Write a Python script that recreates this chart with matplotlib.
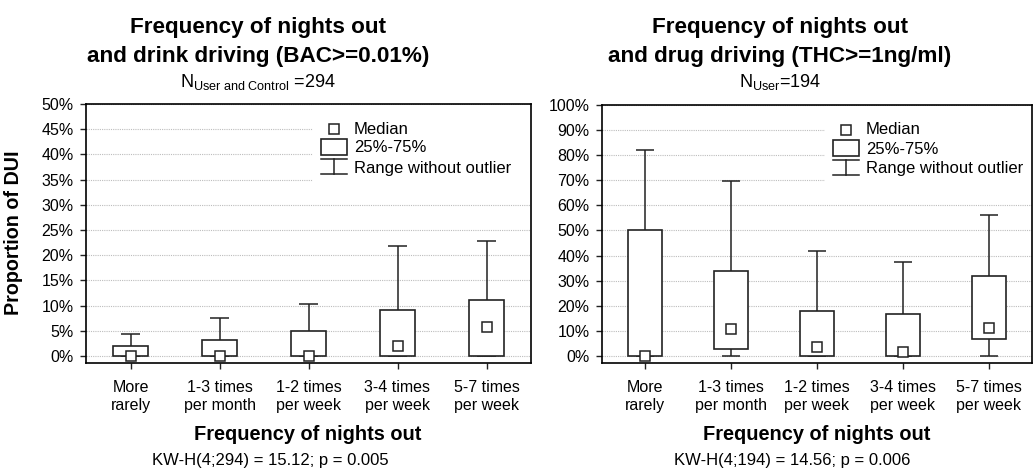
import matplotlib
matplotlib.use('Agg')
import matplotlib.pyplot as plt
from matplotlib.patches import Rectangle
import numpy as np

plt.rcParams['font.family'] = ['Liberation Sans', 'DejaVu Sans']
plt.rcParams['mathtext.fontset'] = 'custom'
plt.rcParams['mathtext.rm'] = 'Liberation Sans'
plt.rcParams['mathtext.it'] = 'Liberation Sans'

categories = ['More\nrarely', '1-3 times\nper month', '1-2 times\nper week',
              '3-4 times\nper week', '5-7 times\nper week']

# drink driving (BAC >= 0.01%), values in %
bac_median = [0.0, 0.0, 0.0, 2.0, 5.8]
bac_q1 = [0.0, 0.0, 0.0, 0.0, 0.0]
bac_q3 = [2.05, 3.1, 4.9, 9.1, 11.1]
bac_low = [0.0, 0.0, 0.0, 0.0, 0.0]
bac_high = [4.4, 7.5, 10.3, 21.9, 22.8]

# drug driving (THC >= 1ng/ml), values in %
thc_median = [0.0, 10.6, 3.6, 1.7, 11.2]
thc_q1 = [0.0, 2.7, 0.0, 0.0, 6.6]
thc_q3 = [50.0, 34.0, 18.1, 16.9, 32.0]
thc_low = [0.0, 0.0, 0.0, 0.0, 0.0]
thc_high = [82.0, 69.9, 42.0, 37.6, 56.0]

W, H = 1033, 471
fig = plt.figure(figsize=(W / 100, H / 100), dpi=100)

edge = '#222222'


def px_axes(left, top, right, bottom):
    return fig.add_axes([left / W, 1 - bottom / H, (right - left) / W, (bottom - top) / H])


def draw_panel(ax, med, q1, q3, lo, hi, ymax, step, ymin):
    x = np.arange(len(categories))
    ax.set_xlim(-0.5, len(categories) - 0.5)
    ax.set_ylim(ymin, ymax)
    ax.set_yticks(np.arange(0, ymax + step / 2, step))
    ax.set_yticklabels([f'{int(v)}%' for v in np.arange(0, ymax + step / 2, step)])
    ax.set_xticks(x)
    ax.set_xticklabels(categories, linespacing=1.25)
    ax.grid(axis='y', color='#bdbdbd', linestyle=(0, (1, 1)), linewidth=0.8)
    ax.set_axisbelow(True)
    for s in ax.spines.values():
        s.set_linewidth(1.2)
    ax.tick_params(labelsize=11.5, length=4, width=1, color='#222222')
    ax.tick_params(axis='x', pad=8)
    ax.tick_params(axis='y', pad=5)

    q1 = np.array(q1)
    q3 = np.array(q3)
    ax.vlines(x, q3, hi, color=edge, lw=1.1, zorder=2)
    ax.vlines(x, lo, q1, color=edge, lw=1.1, zorder=2)
    ax.hlines(hi, x - 0.11, x + 0.11, color=edge, lw=1.1, zorder=2)
    ax.hlines(lo, x - 0.11, x + 0.11, color=edge, lw=1.1, zorder=2)
    ax.bar(x, q3 - q1, bottom=q1, width=0.4, color='white', edgecolor=edge,
           linewidth=1.2, zorder=3)
    ax.plot(x, med, 's', ms=7, mfc='white', mec=edge, mew=1.1, zorder=4,
            clip_on=False)


def draw_legend(ax, ax_w, ax_h, x0):
    # pixel offsets from the axes top-left corner
    fx = lambda p: p / ax_w
    fy = lambda p: 1 - p / ax_h
    ax.add_patch(Rectangle((fx(x0 - 8), fy(80)), 1 - fx(x0 - 8), 80 / ax_h - 0.002,
                           transform=ax.transAxes, facecolor='white', edgecolor='none',
                           zorder=1.5))
    cx = x0 + 13
    ax.plot([fx(cx)], [fy(25)], 's', ms=7, mfc='white', mec=edge, mew=1.1,
            transform=ax.transAxes, zorder=4)
    ax.add_patch(Rectangle((fx(x0), fy(51)), fx(26), 16 / ax_h, transform=ax.transAxes,
                           facecolor='white', edgecolor=edge, lw=1.2, zorder=4))
    ax.plot([fx(x0), fx(x0 + 26)], [fy(55), fy(55)], color=edge, lw=1.1,
            transform=ax.transAxes, zorder=4)
    ax.plot([fx(x0), fx(x0 + 26)], [fy(70), fy(70)], color=edge, lw=1.1,
            transform=ax.transAxes, zorder=4)
    ax.plot([fx(cx), fx(cx)], [fy(55), fy(70)], color=edge, lw=1.1,
            transform=ax.transAxes, zorder=4)
    for yy, txt in [(25, 'Median'), (44, '25%-75%'), (64, 'Range without outlier')]:
        ax.text(fx(x0 + 33), fy(yy), txt, transform=ax.transAxes, fontsize=12,
                va='center', ha='left', zorder=5)


ax1 = px_axes(86, 104, 531, 363)
draw_panel(ax1, bac_median, bac_q1, bac_q3, bac_low, bac_high, 50, 5, -1.4)
draw_legend(ax1, 445, 259, 235)

ax2 = px_axes(602, 105, 1032, 363)
draw_panel(ax2, thc_median, thc_q1, thc_q3, thc_low, thc_high, 100, 10, -2.8)
draw_legend(ax2, 430, 258, 231)

# titles, subtitles and footers
for cx, title, sub, kw, axc in [
        (258, 'Frequency of nights out\nand drink driving (BAC>=0.01%)',
         r'N$_{\mathrm{User\ and\ Control}}$ =294', 'KW-H(4;294) = 15.12; p = 0.005', 308),
        (780, 'Frequency of nights out\nand drug driving (THC>=1ng/ml)',
         r'N$_{\mathrm{User}}$=194', 'KW-H(4;194) = 14.56; p = 0.006', 817)]:
    fig.text(cx / W, 1 - 42 / H, title, ha='center', va='center', fontsize=16.2,
             fontweight='bold', linespacing=1.55)
    fig.text(cx / W, 1 - 82 / H, sub, ha='center', va='center', fontsize=13)
    fig.text(axc / W, 1 - 435 / H, 'Frequency of nights out', ha='center', va='center',
             fontsize=14.4, fontweight='bold')
    fig.text((cx + 12) / W, 1 - 460 / H, kw, ha='center', va='center', fontsize=12)

fig.text(14 / W, 1 - 233 / H, 'Proportion of DUI', rotation=90, ha='center',
         va='center', fontsize=14.2, fontweight='bold')

fig.savefig('out.png', dpi=100)
